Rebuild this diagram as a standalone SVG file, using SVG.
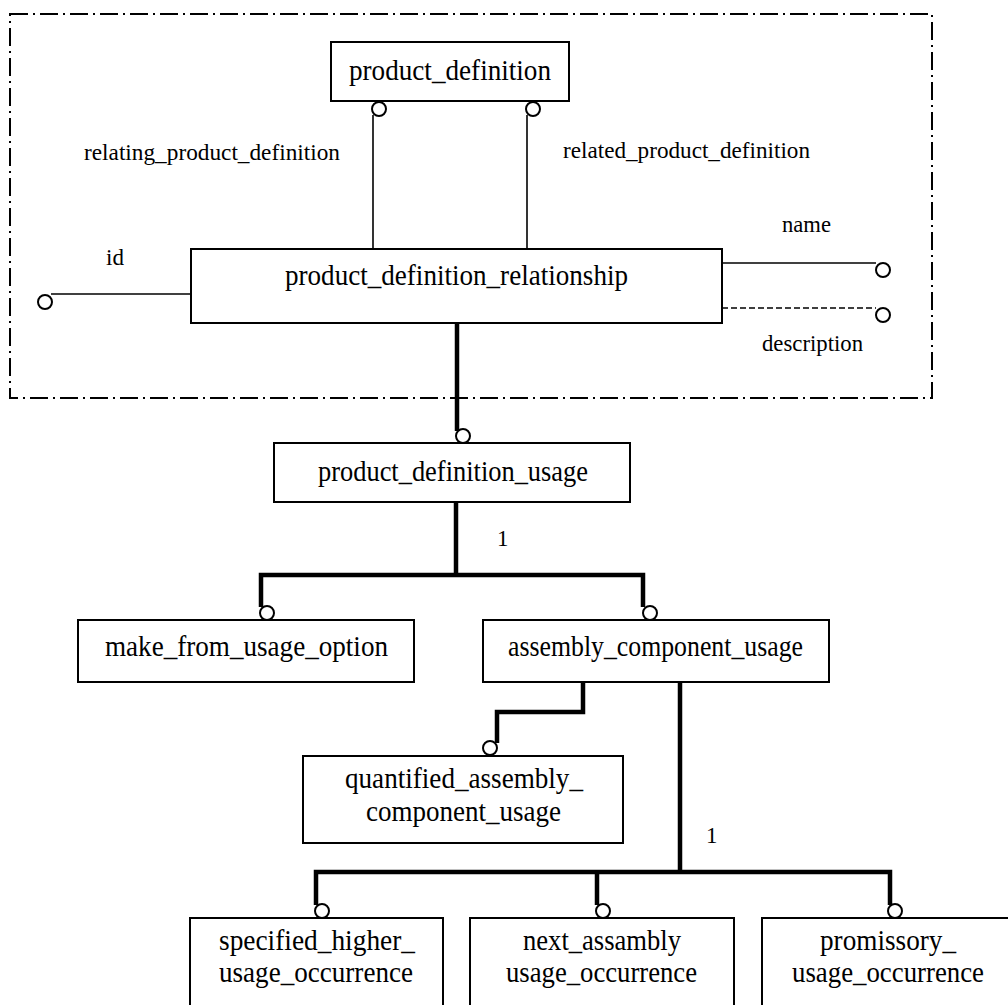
<svg xmlns="http://www.w3.org/2000/svg" width="1008" height="1005" viewBox="0 0 1008 1005">
<style>
.box{fill:#fff;stroke:#000;stroke-width:2}
.t{font-family:"Liberation Serif","Times New Roman",serif;font-size:29px;fill:#000;text-anchor:middle}
.l{font-family:"Liberation Serif","Times New Roman",serif;font-size:23px;fill:#000}
.thin{stroke:#000;stroke-width:1.6;fill:none}
.dash{stroke:#000;stroke-width:1.6;fill:none;stroke-dasharray:6 3}
.thick{stroke:#000;stroke-width:4.5;fill:none;stroke-linejoin:miter}
.c{fill:#fff;stroke:#000;stroke-width:2}
.frame{fill:none;stroke:#000;stroke-width:2;stroke-dasharray:18 5 2 5}
</style>
<rect width="1008" height="1005" fill="#fff"/>
<rect class="frame" x="10" y="14" width="922" height="384"/>
<g id="connectors">
<line class="thin" x1="373" y1="115" x2="373" y2="249"/>
<circle class="c" cx="379" cy="109" r="7"/>
<line class="thin" x1="527" y1="115" x2="527" y2="249"/>
<circle class="c" cx="533" cy="109" r="7"/>
<line class="thin" x1="51" y1="294" x2="191" y2="294"/>
<circle class="c" cx="45" cy="302" r="7"/>
<line class="thin" x1="722" y1="263" x2="876" y2="263"/>
<circle class="c" cx="883" cy="270" r="7"/>
<line class="dash" x1="722" y1="308" x2="876" y2="308"/>
<circle class="c" cx="883" cy="315" r="7"/>
<line class="thick" x1="457" y1="323" x2="457" y2="431"/>
<circle class="c" cx="463" cy="436" r="7"/>
<polyline class="thick" points="261,607 261,575 643,575 643,607"/>
<line class="thick" x1="456" y1="502" x2="456" y2="575"/>
<circle class="c" cx="267" cy="613" r="7"/>
<circle class="c" cx="650" cy="613" r="7"/>
<polyline class="thick" points="583,682 583,712 497,712 497,743"/>
<circle class="c" cx="490" cy="748" r="7"/>
<line class="thick" x1="680" y1="682" x2="680" y2="872"/>
<polyline class="thick" points="316,905 316,872 890,872 890,905"/>
<line class="thick" x1="597" y1="872" x2="597" y2="905"/>
<circle class="c" cx="322" cy="911" r="7"/>
<circle class="c" cx="603" cy="911" r="7"/>
<circle class="c" cx="895" cy="911" r="7"/>
<text class="l" x="497" y="546">1</text>
<text class="l" x="706" y="843">1</text>
</g>
<g id="labels">
<text class="l" x="84" y="160" textLength="256" lengthAdjust="spacingAndGlyphs">relating_product_definition</text>
<text class="l" x="563" y="158" textLength="247" lengthAdjust="spacingAndGlyphs">related_product_definition</text>
<text class="l" x="106" y="265">id</text>
<text class="l" x="782" y="232" textLength="49" lengthAdjust="spacingAndGlyphs">name</text>
<text class="l" x="762" y="351" textLength="101" lengthAdjust="spacingAndGlyphs">description</text>
</g>
<g id="product_definition">
<rect class="box" x="331" y="42" width="238" height="59"/>
<text class="t" x="450" y="80" textLength="202" lengthAdjust="spacingAndGlyphs">product_definition</text>
</g>
<g id="product_definition_relationship">
<rect class="box" x="191" y="249" width="531" height="74"/>
<text class="t" x="456.5" y="285" textLength="343" lengthAdjust="spacingAndGlyphs">product_definition_relationship</text>
</g>
<g id="product_definition_usage">
<rect class="box" x="274" y="443" width="356" height="59"/>
<text class="t" x="453" y="481" textLength="270" lengthAdjust="spacingAndGlyphs">product_definition_usage</text>
</g>
<g id="make_from_usage_option">
<rect class="box" x="78" y="620" width="336" height="62"/>
<text class="t" x="246.5" y="656" textLength="283" lengthAdjust="spacingAndGlyphs">make_from_usage_option</text>
</g>
<g id="assembly_component_usage">
<rect class="box" x="483" y="620" width="346" height="62"/>
<text class="t" x="655.5" y="656" textLength="295" lengthAdjust="spacingAndGlyphs">assembly_component_usage</text>
</g>
<g id="quantified_assembly_component_usage">
<rect class="box" x="303" y="756" width="320" height="87"/>
<text class="t" x="464" y="788" textLength="238" lengthAdjust="spacingAndGlyphs">quantified_assembly_</text>
<text class="t" x="463.5" y="821" textLength="195" lengthAdjust="spacingAndGlyphs">component_usage</text>
</g>
<g id="specified_higher_usage_occurrence">
<rect class="box" x="190" y="918" width="253" height="100"/>
<text class="t" x="317" y="950" textLength="196" lengthAdjust="spacingAndGlyphs">specified_higher_</text>
<text class="t" x="316" y="982" textLength="194" lengthAdjust="spacingAndGlyphs">usage_occurrence</text>
</g>
<g id="next_assambly_usage_occurrence">
<rect class="box" x="470" y="918" width="264" height="100"/>
<text class="t" x="602" y="950" textLength="158" lengthAdjust="spacingAndGlyphs">next_assambly</text>
<text class="t" x="601.5" y="982" textLength="191" lengthAdjust="spacingAndGlyphs">usage_occurrence</text>
</g>
<g id="promissory_usage_occurrence">
<rect class="box" x="762" y="918" width="260" height="100"/>
<text class="t" x="888" y="950" textLength="136" lengthAdjust="spacingAndGlyphs">promissory_</text>
<text class="t" x="888" y="982" textLength="192" lengthAdjust="spacingAndGlyphs">usage_occurrence</text>
</g>
</svg>
